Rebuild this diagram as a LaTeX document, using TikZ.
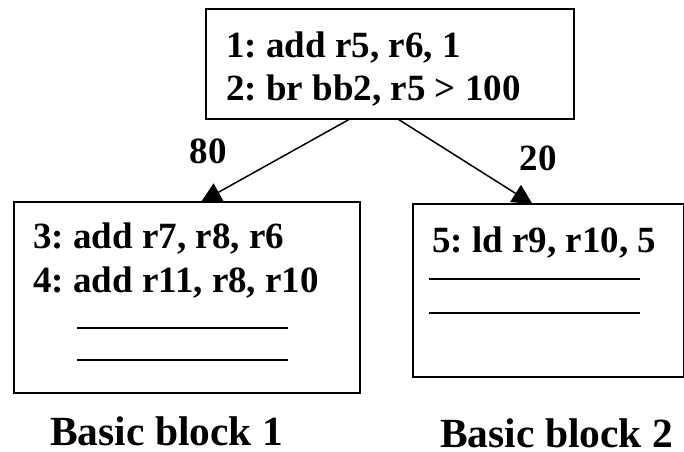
\documentclass[tikz,border=0pt]{standalone}
\usepackage{fontspec}
\setmainfont{Liberation Serif}
\usetikzlibrary{arrows.meta}
\begin{document}
\frenchspacing
\begin{tikzpicture}[x=1pt,y=-1pt,
  block/.style={draw,line width=1.6pt,inner sep=0pt,anchor=north west},
  code/.style={anchor=base west,inner sep=0pt,font=\fontsize{37}{40}\selectfont\bfseries},
  freq/.style={anchor=base,inner sep=0pt,font=\fontsize{37}{40}\selectfont\bfseries},
  caption/.style={anchor=base west,inner sep=0pt,font=\fontsize{41.5}{46}\selectfont\bfseries},
  blank/.style={line width=1.4pt},
  edge/.style={line width=1.5pt,-{Triangle[length=20pt,width=20pt]},shorten >=-2pt}]
\useasboundingbox (0,0) rectangle (684,451);

% basic blocks
\node[block,minimum width=368pt,minimum height=110pt] (top) at (205,8) {};
\node[block,minimum width=346pt,minimum height=191pt] (bb1) at (13,201) {};
\node[block,minimum width=271pt,minimum height=173pt] (bb2) at (412,203) {};

% instructions
\node[code] (i1) at (226,57) {1: add r5, r6, 1};
\node[code] (i2) at (226,100) {2: br bb2, r5 > 100};
\node[code] (i3) at (33,248) {3: add r7, r8, r6};
\node[code] (i4) at (33,292) {4: add r11, r8, r10};
\node[code] (i5) at (432,252) {5: ld r9, r10, 5};

% placeholder lines for further instructions
\draw[blank] (77,328) -- (288,328);
\draw[blank] (77,360) -- (288,360);
\draw[blank] (429,279) -- (640,279);
\draw[blank] (429,313) -- (640,313);

% branch edges with profile counts
\draw[edge] ([xshift=-41pt]top.south) -- ([xshift=16pt]bb1.north);
\draw[edge] ([xshift=9pt]top.south) -- ([xshift=-17.5pt]bb2.north);
\node[freq] (f80) at (208,163) {80};
\node[freq] (f20) at (538,170) {20};

% captions
\node[caption] (c1) at (50,445) {Basic block 1};
\node[caption] (c2) at (440,447) {Basic block 2};
\end{tikzpicture}
\end{document}
